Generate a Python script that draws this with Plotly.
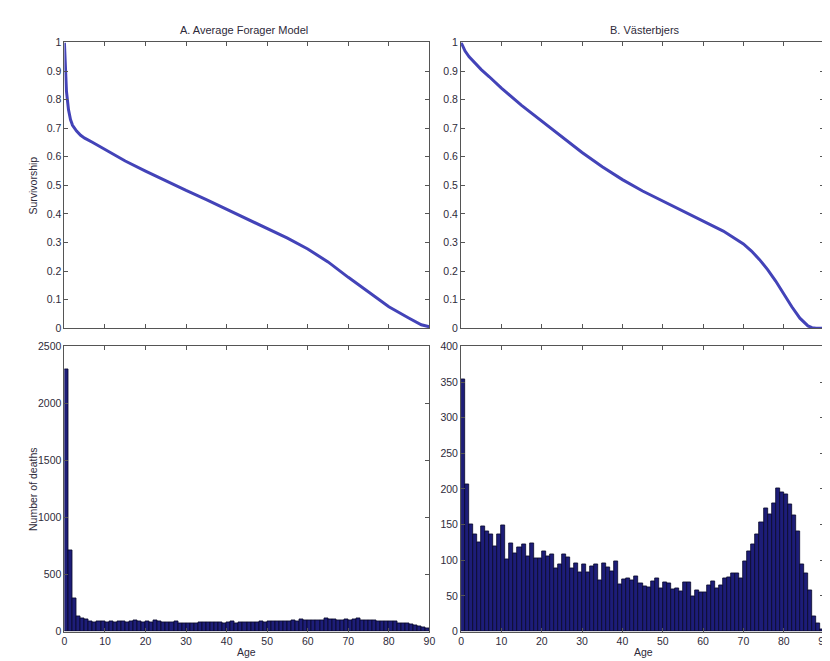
import plotly.graph_objects as go

# ---------------- data ----------------
ages_bins = list(range(90))  # left edge of each 1-year bin

forager_deaths = [2300, 714, 287, 135, 113, 106,
                  88, 84, 90, 87, 85, 89, 84, 86, 88, 83, 90,
                  100, 86, 80, 88, 85, 100, 90, 84, 80, 84, 86, 74, 70,
                  72, 70, 74, 78, 84, 80, 78, 82, 80, 76,
                  84, 88, 72, 82, 80, 78, 82, 84, 86, 84,
                  88, 90, 92, 88, 92, 94, 96, 94, 110, 98,
                  100, 96, 98, 100, 117, 108, 104, 100, 102, 104,
                  100, 104, 114, 102, 100, 98, 96, 90, 88, 94,
                  92, 86, 74, 74, 68, 60, 58, 46, 40, 30]

vasterbjers_deaths = [354, 206, 151, 137, 125, 147, 140, 136, 120, 137,
                      149, 101, 124, 110, 118, 123, 106, 124, 103, 102,
                      113, 106, 109, 88, 94, 108, 104, 88, 95, 83,
                      94, 83, 92, 94, 72, 95, 90, 84, 98, 66,
                      73, 75, 72, 78, 67, 63, 62, 71, 75, 60,
                      69, 68, 59, 60, 56, 69, 69, 49, 58, 55,
                      55, 65, 71, 60, 65, 75, 76, 81, 82, 75,
                      98, 113, 123, 136, 153, 173, 165, 180, 201, 195,
                      192, 179, 163, 140, 94, 81, 58, 21, 12, 3]

forager_surv_age = [0, 0.2, 0.5, 1, 1.5, 2, 3, 4, 5, 7, 10, 15, 20, 25, 30, 35,
                    40, 45, 50, 55, 60, 65, 70, 75, 80, 85, 88, 90]
forager_surv = [1.0, 0.91, 0.83, 0.765, 0.73, 0.71, 0.69, 0.675, 0.665, 0.65,
                0.625, 0.585, 0.55, 0.515, 0.482, 0.45, 0.416, 0.383, 0.35,
                0.315, 0.277, 0.232, 0.178, 0.125, 0.075, 0.035, 0.012, 0.005]

vast_surv_age = [0, 0.5, 1, 2, 3, 5, 7, 10, 15, 20, 25, 30, 35, 40, 45, 50, 55,
                 60, 65, 70, 72, 74, 76, 78, 80, 82, 84, 85, 86, 87, 88, 90]
vast_surv = [1.0, 0.985, 0.97, 0.95, 0.935, 0.905, 0.88, 0.84, 0.78, 0.725,
             0.67, 0.615, 0.565, 0.52, 0.48, 0.445, 0.41, 0.375, 0.34, 0.295,
             0.27, 0.24, 0.205, 0.165, 0.12, 0.075, 0.035, 0.02, 0.008,
             0.002, 0.0, 0.0]

titles = ["A. Average Forager Model", "B. Västerbjers"]
y_titles = ["Survivorship", "Number of deaths"]
x_title = "Age"

# ---------------- style ----------------
W, H = 830, 661
LINE_C = "#4343b8"
BAR_C = "#1d1d78"
TXT_C = "#2e2a3a"
AX_C = "#555555"
FONT = "Liberation Sans, Arial, sans-serif"

def fx(px):
    return px / W

def fy(py):
    return 1 - py / H

xl = [fx(54), fx(423)]
xr = [fx(455), fx(822)]
yt = [fy(320), fy(29)]
yb = [fy(629), fy(338.5)]

fig = go.Figure()

fig.add_trace(go.Scatter(x=forager_surv_age, y=forager_surv, mode="lines",
                         line=dict(color=LINE_C, width=3), xaxis="x", yaxis="y",
                         showlegend=False))
fig.add_trace(go.Scatter(x=vast_surv_age, y=vast_surv, mode="lines",
                         line=dict(color=LINE_C, width=3), xaxis="x2", yaxis="y2",
                         showlegend=False))
fig.add_trace(go.Bar(x=[a + 0.5 for a in ages_bins], y=forager_deaths, width=1,
                     marker=dict(color=BAR_C, line=dict(color="#08082a", width=0.8)),
                     xaxis="x3", yaxis="y3", showlegend=False))
fig.add_trace(go.Bar(x=[a + 0.5 for a in ages_bins], y=vasterbjers_deaths, width=1,
                     marker=dict(color=BAR_C, line=dict(color="#08082a", width=0.8)),
                     xaxis="x4", yaxis="y4", showlegend=False))

common = dict(showline=True, linecolor=AX_C, linewidth=1, mirror="ticks",
              ticks="inside", ticklen=4, tickcolor=AX_C, showgrid=False,
              zeroline=False, tickfont=dict(family=FONT, size=10.5, color=TXT_C))

xticks = list(range(0, 91, 10))
fig.update_layout(
    width=W, height=H, margin=dict(l=0, r=0, t=0, b=0),
    paper_bgcolor="white", plot_bgcolor="white", bargap=0,
    font=dict(family=FONT, color=TXT_C),
    xaxis=dict(domain=xl, anchor="y", range=[0, 90], tickvals=xticks,
               showticklabels=False, **common),
    yaxis=dict(domain=yt, anchor="x", range=[0, 1], dtick=0.1, **common),
    xaxis2=dict(domain=xr, anchor="y2", range=[0, 90], tickvals=xticks,
                showticklabels=False, **common),
    yaxis2=dict(domain=yt, anchor="x2", range=[0, 1], dtick=0.1, **common),
    xaxis3=dict(domain=xl, anchor="y3", range=[0, 90], tickvals=xticks, **common),
    yaxis3=dict(domain=yb, anchor="x3", range=[0, 2500], dtick=500, **common),
    xaxis4=dict(domain=xr, anchor="y4", range=[0, 90], tickvals=xticks, **common),
    yaxis4=dict(domain=yb, anchor="x4", range=[0, 400], dtick=50, **common),
)

ann_font = dict(family=FONT, size=11, color=TXT_C)
lab_font = dict(family=FONT, size=10.5, color=TXT_C)
fig.add_annotation(text=titles[0], x=fx(236), y=fy(16), xref="paper", yref="paper",
                   xanchor="center", yanchor="middle", showarrow=False, font=ann_font)
fig.add_annotation(text=titles[1], x=fx(641), y=fy(16), xref="paper", yref="paper",
                   xanchor="center", yanchor="middle", showarrow=False, font=ann_font)
fig.add_annotation(text=y_titles[0], x=fx(22), y=fy(175), xref="paper", yref="paper",
                   xanchor="center", yanchor="middle", textangle=-90, showarrow=False, font=lab_font)
fig.add_annotation(text=y_titles[1], x=fx(22), y=fy(484), xref="paper", yref="paper",
                   xanchor="center", yanchor="middle", textangle=-90, showarrow=False, font=lab_font)
fig.add_annotation(text=x_title, x=fx(238), y=fy(650), xref="paper", yref="paper",
                   xanchor="center", yanchor="middle", showarrow=False, font=lab_font)
fig.add_annotation(text=x_title, x=fx(639), y=fy(650), xref="paper", yref="paper",
                   xanchor="center", yanchor="middle", showarrow=False, font=lab_font)

fig.write_html("out.html")
